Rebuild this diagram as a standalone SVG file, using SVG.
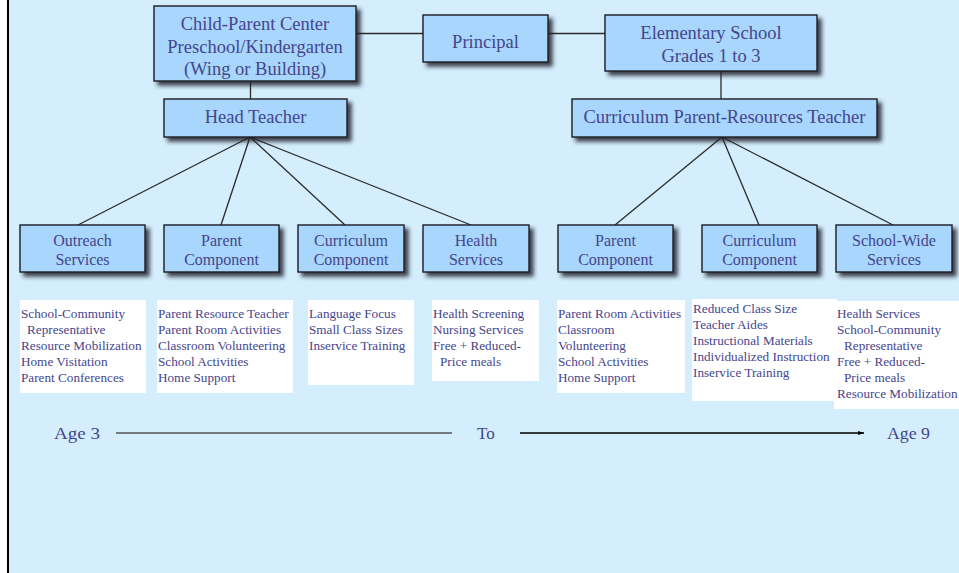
<svg xmlns="http://www.w3.org/2000/svg" width="959" height="573" viewBox="0 0 959 573">
  <defs>
    <filter id="shadow" x="-10%" y="-20%" width="130%" height="160%">
      <feDropShadow dx="4" dy="4" stdDeviation="2" flood-color="#1a1a2a" flood-opacity="0.85"/>
    </filter>
    <marker id="arrow" viewBox="0 0 10 10" refX="10" refY="5" markerWidth="6" markerHeight="6" orient="auto" markerUnits="userSpaceOnUse">
      <path d="M0,1.5 L10,5 L0,8.5 z" fill="#000"/>
    </marker>
  </defs>
  <style>
    .box { fill: #a8d6fd; stroke: #1c1c24; stroke-width: 1.4; filter: url(#shadow); }
    .lbl { font-family: "Liberation Serif", "Times New Roman", serif; fill: #45458c; text-anchor: middle; }
    .big { font-size: 18.5px; }
    .mid { font-size: 16px; }
    .list { fill: #ffffff; }
    .item { font-family: "Liberation Serif", "Times New Roman", serif; font-size: 13.2px; fill: #45458c; }
    .link { stroke: #2a2a2a; stroke-width: 1.3; fill: none; }
    .age { font-family: "Liberation Serif", "Times New Roman", serif; font-size: 17px; fill: #45458c; }
  </style>

  <!-- page background and left rule -->
  <rect x="0" y="0" width="959" height="573" fill="#ffffff"/>
  <rect x="8" y="0" width="951" height="573" fill="#d4eefd"/>
  <line x1="8" y1="0" x2="8" y2="573" stroke="#000" stroke-width="2"/>

  <!-- connectors -->
  <g id="connectors">
    <line class="link" x1="356" y1="33.5" x2="423" y2="33.5"/>
    <line class="link" x1="548" y1="33.5" x2="605" y2="33.5"/>
    <line class="link" x1="250.5" y1="81" x2="250.5" y2="99"/>
    <line class="link" x1="721" y1="71" x2="721" y2="99"/>
    <line class="link" x1="250" y1="137" x2="78" y2="225"/>
    <line class="link" x1="250" y1="137" x2="221" y2="225"/>
    <line class="link" x1="250" y1="137" x2="345" y2="225"/>
    <line class="link" x1="250" y1="137" x2="471" y2="225"/>
    <line class="link" x1="722" y1="137" x2="615" y2="225"/>
    <line class="link" x1="722" y1="137" x2="759" y2="225"/>
    <line class="link" x1="722" y1="137" x2="893" y2="225"/>
  </g>

  <!-- top tier -->
  <g id="child-parent-center">
    <rect class="box" x="154" y="6" width="202" height="75"/>
    <text class="lbl big" x="255" y="30">Child-Parent Center</text>
    <text class="lbl big" x="255" y="52.5">Preschool/Kindergarten</text>
    <text class="lbl big" x="255" y="75">(Wing or Building)</text>
  </g>
  <g id="principal">
    <rect class="box" x="423" y="15" width="125" height="47"/>
    <text class="lbl big" x="485.5" y="48">Principal</text>
  </g>
  <g id="elementary-school">
    <rect class="box" x="605" y="15" width="212" height="56"/>
    <text class="lbl big" x="711" y="39">Elementary School</text>
    <text class="lbl big" x="711" y="62">Grades 1 to 3</text>
  </g>

  <!-- second tier -->
  <g id="head-teacher">
    <rect class="box" x="164" y="99" width="183" height="38"/>
    <text class="lbl big" x="255.5" y="123">Head Teacher</text>
  </g>
  <g id="curriculum-parent-resources-teacher">
    <rect class="box" x="572" y="99" width="305" height="38"/>
    <text class="lbl big" x="724.5" y="123">Curriculum Parent-Resources Teacher</text>
  </g>

  <!-- component tier -->
  <g id="outreach-services">
    <rect class="box" x="20" y="225" width="125" height="47"/>
    <text class="lbl mid" x="82.5" y="246">Outreach</text>
    <text class="lbl mid" x="82.5" y="265">Services</text>
  </g>
  <g id="parent-component-cpc">
    <rect class="box" x="164" y="225" width="115" height="47"/>
    <text class="lbl mid" x="221.5" y="246">Parent</text>
    <text class="lbl mid" x="221.5" y="265">Component</text>
  </g>
  <g id="curriculum-component-cpc">
    <rect class="box" x="298" y="225" width="106" height="47"/>
    <text class="lbl mid" x="351" y="246">Curriculum</text>
    <text class="lbl mid" x="351" y="265">Component</text>
  </g>
  <g id="health-services">
    <rect class="box" x="423" y="225" width="106" height="47"/>
    <text class="lbl mid" x="476" y="246">Health</text>
    <text class="lbl mid" x="476" y="265">Services</text>
  </g>
  <g id="parent-component-es">
    <rect class="box" x="558" y="225" width="115" height="47"/>
    <text class="lbl mid" x="615.5" y="246">Parent</text>
    <text class="lbl mid" x="615.5" y="265">Component</text>
  </g>
  <g id="curriculum-component-es">
    <rect class="box" x="702" y="225" width="115" height="47"/>
    <text class="lbl mid" x="759.5" y="246">Curriculum</text>
    <text class="lbl mid" x="759.5" y="265">Component</text>
  </g>
  <g id="school-wide-services">
    <rect class="box" x="836" y="225" width="116" height="47"/>
    <text class="lbl mid" x="894" y="246">School-Wide</text>
    <text class="lbl mid" x="894" y="265">Services</text>
  </g>

  <!-- activity lists -->
  <g id="list-outreach">
    <rect class="list" x="20" y="300" width="126" height="93"/>
    <text class="item" x="21" y="318">School-Community</text>
    <text class="item" x="27" y="334">Representative</text>
    <text class="item" x="21" y="350">Resource Mobilization</text>
    <text class="item" x="21" y="366">Home Visitation</text>
    <text class="item" x="21" y="382">Parent Conferences</text>
  </g>
  <g id="list-parent-cpc">
    <rect class="list" x="157" y="300" width="136" height="93"/>
    <text class="item" x="158" y="318">Parent Resource Teacher</text>
    <text class="item" x="158" y="334">Parent Room Activities</text>
    <text class="item" x="158" y="350">Classroom Volunteering</text>
    <text class="item" x="158" y="366">School Activities</text>
    <text class="item" x="158" y="382">Home Support</text>
  </g>
  <g id="list-curriculum-cpc">
    <rect class="list" x="308" y="300" width="106" height="85"/>
    <text class="item" x="309" y="318">Language Focus</text>
    <text class="item" x="309" y="334">Small Class Sizes</text>
    <text class="item" x="309" y="350">Inservice Training</text>
  </g>
  <g id="list-health">
    <rect class="list" x="432" y="300" width="107" height="81"/>
    <text class="item" x="433" y="318">Health Screening</text>
    <text class="item" x="433" y="334">Nursing Services</text>
    <text class="item" x="433" y="350">Free + Reduced-</text>
    <text class="item" x="440" y="366">Price meals</text>
  </g>
  <g id="list-parent-es">
    <rect class="list" x="557" y="300" width="128" height="93"/>
    <text class="item" x="558" y="318">Parent Room Activities</text>
    <text class="item" x="558" y="334">Classroom</text>
    <text class="item" x="558" y="350">Volunteering</text>
    <text class="item" x="558" y="366">School Activities</text>
    <text class="item" x="558" y="382">Home Support</text>
  </g>
  <g id="list-curriculum-es">
    <rect class="list" x="692" y="299" width="145" height="102"/>
    <text class="item" x="693" y="313">Reduced Class Size</text>
    <text class="item" x="693" y="329">Teacher Aides</text>
    <text class="item" x="693" y="345">Instructional Materials</text>
    <text class="item" x="693" y="361">Individualized Instruction</text>
    <text class="item" x="693" y="377">Inservice Training</text>
  </g>
  <g id="list-school-wide">
    <rect class="list" x="834" y="301" width="125" height="108"/>
    <text class="item" x="837" y="318">Health Services</text>
    <text class="item" x="837" y="334">School-Community</text>
    <text class="item" x="844" y="350">Representative</text>
    <text class="item" x="837" y="366">Free + Reduced-</text>
    <text class="item" x="844" y="382">Price meals</text>
    <text class="item" x="837" y="398">Resource Mobilization</text>
  </g>

  <!-- age span -->
  <g id="age-span">
    <text class="age" x="54" y="439" textLength="46" lengthAdjust="spacingAndGlyphs">Age 3</text>
    <line x1="116" y1="433" x2="452" y2="433" stroke="#555" stroke-width="1.3"/>
    <text class="age" x="477" y="439">To</text>
    <line x1="520" y1="433" x2="864" y2="433" stroke="#000" stroke-width="1.6" marker-end="url(#arrow)"/>
    <text class="age" x="887" y="439" textLength="43" lengthAdjust="spacingAndGlyphs">Age 9</text>
  </g>
</svg>
